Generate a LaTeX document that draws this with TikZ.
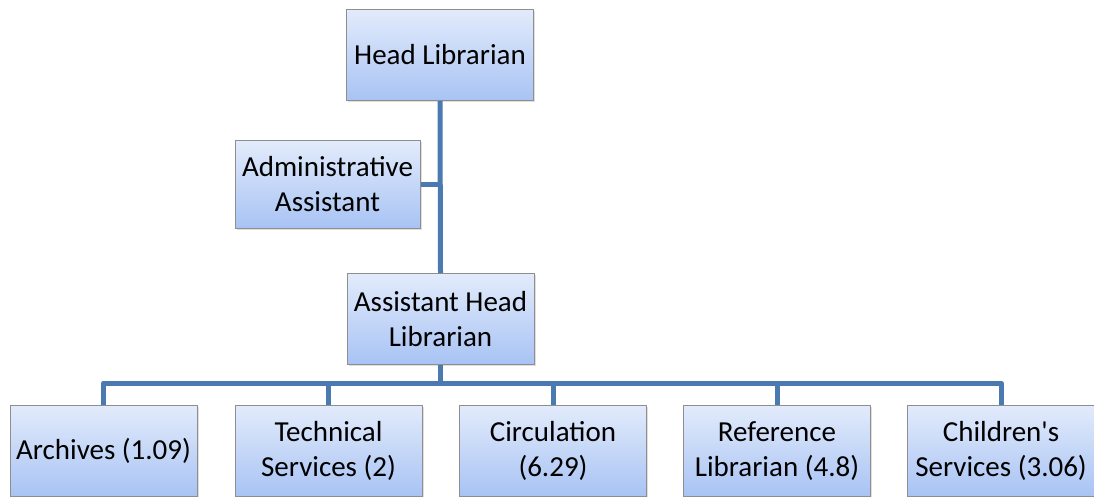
\documentclass[tikz,border=0pt]{standalone}
\usepackage{fontspec}
\setmainfont{Carlito}
\usepackage{tikz}
\usetikzlibrary{shadows,positioning}

\definecolor{boxtop}{HTML}{E2EBFB}
\definecolor{boxbot}{HTML}{A8C3F4}
\definecolor{boxline}{HTML}{8E8E8E}
\definecolor{linkblue}{HTML}{4A7AB0}

\tikzset{
  orgbox/.style={rectangle,draw=boxline,line width=1pt,top color=boxtop,bottom color=boxbot,
    minimum width=187pt,minimum height=91pt,align=center,inner sep=1pt,
    drop shadow={opacity=0.25,shadow xshift=1.5pt,shadow yshift=-1.5pt}},
  link/.style={linkblue,line width=5pt,line join=round}
}

\begin{document}
\begin{tikzpicture}[x=1pt,y=-1pt,font=\fontsize{29}{35}\selectfont]
  \useasboundingbox (0,0) rectangle (1094,497);
  % top of the chart
  \node[orgbox] (head) at (440,55) {Head Librarian};
  \node[orgbox,minimum width=185pt,minimum height=87pt] (admin) at (327.5,184.5) {Administrative\\Assistant};
  \node[orgbox] (asst) at (440.5,319) {Assistant Head\\Librarian};
  % departments
  \node[orgbox] (arch) at (103.5,451) {Archives (1.09)};
  \node[orgbox] (tech) at (328.5,451) {Technical\\Services (2)};
  \node[orgbox] (circ) at (553,451) {Circulation\\(6.29)};
  \node[orgbox] (refl) at (777,451) {Reference\\Librarian (4.8)};
  \node[orgbox] (chld) at (1001,451) {Children\textquotesingle s\\Services (3.06)};
  % connectors
  \coordinate (bus) at (440.5,383);
  \draw[link] (head.south) -- (asst.north);
  \draw[link] (admin.east) -- (admin.east -| head.south);
  \draw[link] (asst.south) -- (bus);
  \foreach \d in {arch,tech,circ,refl,chld}
    \draw[link] (bus) -| (\d.north);
\end{tikzpicture}
\end{document}
